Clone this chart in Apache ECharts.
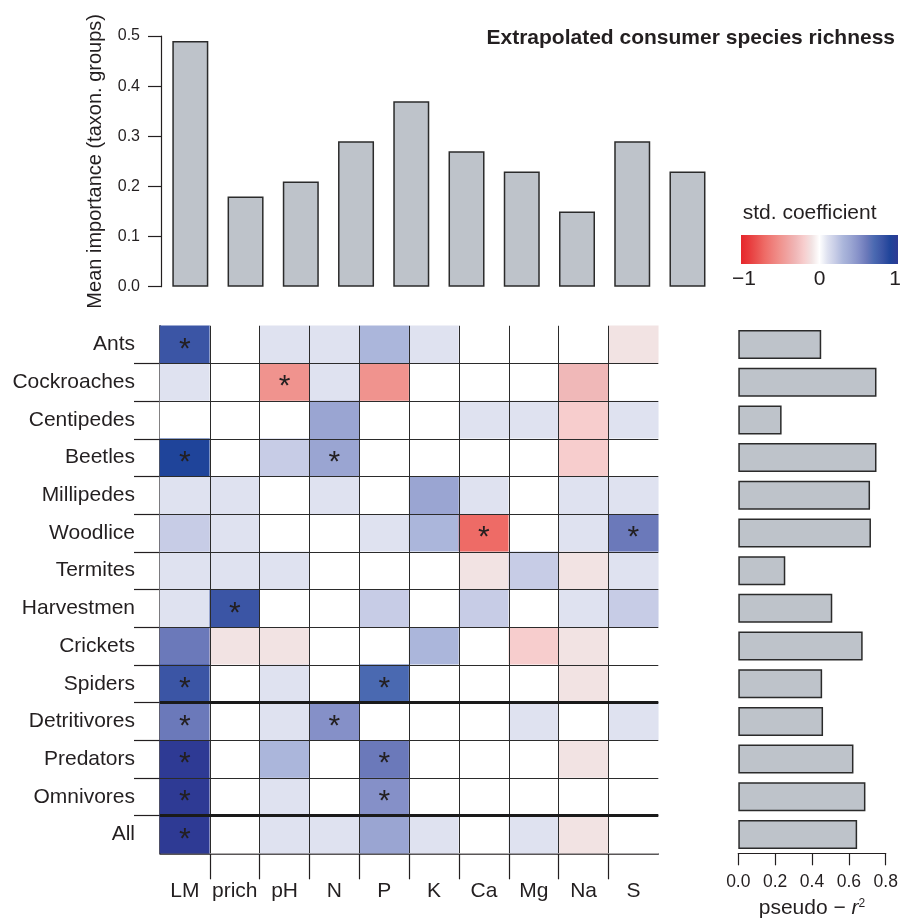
<!DOCTYPE html>
<html><head><meta charset="utf-8">
<script src="https://cdn.jsdelivr.net/npm/echarts@6/dist/echarts.min.js"></script>
<style>html,body{margin:0;padding:0;background:#fff}#c{width:914px;height:924px}</style>
</head><body><div id="c"></div>
<script>
// ---------- data ----------
const predictors = ['LM','prich','pH','N','P','K','Ca','Mg','Na','S'];
const taxa = ['Ants','Cockroaches','Centipedes','Beetles','Millipedes','Woodlice','Termites','Harvestmen','Crickets','Spiders','Detritivores','Predators','Omnivores','All'];
const meanImportance = [0.49,0.18,0.21,0.29,0.37,0.27,0.23,0.15,0.29,0.23];
const pseudoR2 = [0.45,0.75,0.235,0.75,0.715,0.72,0.255,0.51,0.675,0.455,0.46,0.625,0.69,0.645];
// standardized coefficients: one row per taxon, columns follow predictors
const stdCoef = [
  [ 0.8, 0.0, 0.1, 0.1, 0.3, 0.1, 0.0, 0.0, 0.0,-0.1],
  [ 0.1, 0.0,-0.5, 0.1,-0.5, 0.0, 0.0, 0.0,-0.3, 0.0],
  [ 0.0, 0.0, 0.0, 0.4, 0.0, 0.0, 0.1, 0.1,-0.2, 0.1],
  [ 0.9, 0.0, 0.2, 0.4, 0.0, 0.0, 0.0, 0.0,-0.2, 0.0],
  [ 0.1, 0.1, 0.0, 0.1, 0.0, 0.4, 0.1, 0.0, 0.1, 0.1],
  [ 0.2, 0.1, 0.0, 0.0, 0.1, 0.3,-0.7, 0.0, 0.1, 0.6],
  [ 0.1, 0.1, 0.1, 0.0, 0.0, 0.0,-0.1, 0.2,-0.1, 0.1],
  [ 0.1, 0.8, 0.0, 0.0, 0.2, 0.0, 0.2, 0.0, 0.1, 0.2],
  [ 0.6,-0.1,-0.1, 0.0, 0.0, 0.3, 0.0,-0.2,-0.1, 0.0],
  [ 0.8, 0.0, 0.1, 0.0, 0.7, 0.0, 0.0, 0.0,-0.1, 0.0],
  [ 0.6, 0.0, 0.1, 0.5, 0.0, 0.0, 0.0, 0.1, 0.0, 0.1],
  [ 1.0, 0.0, 0.3, 0.0, 0.6, 0.0, 0.0, 0.0,-0.1, 0.0],
  [ 1.0, 0.0, 0.1, 0.0, 0.5, 0.0, 0.0, 0.0, 0.0, 0.0],
  [ 1.0, 0.0, 0.1, 0.1, 0.4, 0.1, 0.0, 0.1,-0.1, 0.0]
];
// significant cells as [taxon index, predictor index]
const significant = [[0,0],[1,2],[3,0],[3,3],[5,6],[5,9],[7,1],[9,0],[9,4],[10,0],[10,3],[11,0],[11,4],[12,0],[12,4],[13,0]];
const groupBreaks = [10, 13];
const legendTicks = [-1, 0, 1];
const coefPalette = ['#E6262B','#E83A3C','#EA5250','#EE6B66','#EF7F7B','#F0938E','#F0A5A3','#F0B8B8','#F7CDCD','#F2E3E3','#FFFFFF',
  '#DFE2F0','#C7CCE6','#ABB6DB','#9AA5D2','#8590C8','#6B79BA','#4A69B1','#3B55A5','#1F449A','#2E3A94'];

// ---------- build ----------
const sigSet = new Set(significant.map(s => s[0] + '_' + s[1]));
const heatData = [];
stdCoef.forEach((row, r) => row.forEach((v, c) => heatData.push([c, r, v, sigSet.has(r + '_' + c) ? 1 : 0])));
const gridLines = [];
for (let i = 1; i < predictors.length; i++) gridLines.push({coords: [[i, 0], [i, taxa.length]]});
for (let j = 1; j < taxa.length; j++) gridLines.push({coords: [[0, j], [predictors.length, j]]});
const breakLines = groupBreaks.map(b => ({coords: [[0, b], [predictors.length, b]]}));
const colTicks = []; for (let i = 1; i < predictors.length; i++) colTicks.push(i);
const rowTicks = []; for (let j = 1; j < taxa.length; j++) rowTicks.push(j);

const ink = '#231F20';
const FONT = 'Liberation Sans, Arial, Helvetica, sans-serif';
const barStyle = {color: '#BEC3CA', borderColor: '#2b2b2b', borderWidth: 1.5};

const chart = echarts.init(document.getElementById('c'), null, {renderer: 'canvas'});
const legX = 741, legY = 235, legW = 157, legH = 29;
const stops = coefPalette.map((c, i) => ({offset: i / (coefPalette.length - 1), color: c}));

chart.setOption({
  animation: false,
  textStyle: {fontFamily: FONT, color: ink},
  grid: [
    {left: 162.7, top: 36, width: 552.4, height: 250.7},
    {left: 160, top: 325.7, width: 498.3, height: 527.6},
    {left: 738.3, top: 325.7, width: 147.4, height: 527.6}
  ],
  xAxis: [
    {type: 'category', gridIndex: 0, data: predictors, show: false},
    {type: 'category', gridIndex: 1, data: predictors, position: 'bottom',
      axisLine: {onZero: false, lineStyle: {color: ink, width: 1.5}}, axisTick: {show: false},
      axisLabel: {fontSize: 21, margin: 27, color: ink, interval: 0}},
    {type: 'value', gridIndex: 1, min: 0, max: predictors.length, interval: 1, position: 'bottom',
      axisLine: {show: false, onZero: false}, axisLabel: {show: false}, splitLine: {show: false},
      axisTick: {show: true, customValues: colTicks, length: 26, lineStyle: {color: ink, width: 1.2}}},
    {type: 'value', gridIndex: 2, min: 0, max: 0.8, interval: 0.2, position: 'bottom',
      axisLine: {show: true, onZero: false, lineStyle: {color: ink, width: 1.2}},
      axisTick: {show: true, length: 12, lineStyle: {color: ink, width: 1.2}},
      axisLabel: {fontSize: 17.5, margin: 20, color: ink, formatter: v => v.toFixed(1)},
      splitLine: {show: false},
      name: '{a|pseudo \u2212 }{r|r}{s|2}', nameLocation: 'middle', nameGap: 44,
      nameTextStyle: {rich: {a: {fontSize: 21, color: ink, fontFamily: FONT}, r: {fontSize: 21, fontStyle: 'italic', color: ink, fontFamily: FONT}, s: {fontSize: 12, verticalAlign: 'top', color: ink, fontFamily: FONT}}}}
  ],
  yAxis: [
    {type: 'value', gridIndex: 0, min: 0, max: 0.5, interval: 0.1, offset: 1.7,
      axisLine: {show: true, onZero: false, lineStyle: {color: ink, width: 1.2}},
      axisTick: {show: true, length: 13, lineStyle: {color: ink, width: 1.2}},
      axisLabel: {fontSize: 16, margin: 21, color: ink, formatter: v => v.toFixed(1)},
      splitLine: {show: false},
      name: 'Mean importance (taxon. groups)', nameLocation: 'middle', nameGap: 56,
      nameTextStyle: {fontSize: 20, color: ink}},
    {type: 'category', gridIndex: 1, data: taxa, inverse: true,
      axisLine: {onZero: false, lineStyle: {color: ink, width: 1.5}}, axisTick: {show: false},
      axisLabel: {fontSize: 21, margin: 25, color: ink, interval: 0}},
    {type: 'value', gridIndex: 1, min: 0, max: taxa.length, interval: 1, inverse: true, position: 'left',
      axisLine: {show: false, onZero: false}, axisLabel: {show: false}, splitLine: {show: false},
      axisTick: {show: true, customValues: rowTicks, length: 26, lineStyle: {color: ink, width: 1.2}}},
    {type: 'category', gridIndex: 2, data: taxa, inverse: true, show: false}
  ],
  visualMap: {type: 'continuous', show: false, min: -1, max: 1, dimension: 2, seriesIndex: 1,
    inRange: {color: coefPalette}},
  graphic: [
    {type: 'text', right: 19, top: 28, style: {text: 'Extrapolated consumer species richness', font: 'bold 21px ' + FONT, fill: ink}},
    {type: 'text', x: 742.7, y: 213, style: {text: 'std. coefficient', font: '21px ' + FONT, fill: ink, verticalAlign: 'middle'}},
    {type: 'rect', shape: {x: legX, y: legY, width: legW, height: legH},
      style: {fill: new echarts.graphic.LinearGradient(0, 0, 1, 0, stops)}},
    ...legendTicks.map((t, i) => ({type: 'text',
      x: legX + (t + 1) / 2 * legW + (i === 0 ? 3 : (i === legendTicks.length - 1 ? -3 : 0)), y: 279,
      style: {text: t < 0 ? '\u2212' + Math.abs(t) : String(t), font: '21px ' + FONT, fill: ink, align: 'center', verticalAlign: 'middle'}}))
  ],
  series: [
    {type: 'bar', xAxisIndex: 0, yAxisIndex: 0, data: meanImportance, barWidth: 36, itemStyle: barStyle, silent: true},
    {type: 'heatmap', xAxisIndex: 1, yAxisIndex: 1, data: heatData, silent: true,
      itemStyle: {borderWidth: 0},
      label: {show: true, color: ink, fontSize: 30, offset: [0, 5], formatter: p => p.value[3] ? '*' : ''}},
    {type: 'lines', coordinateSystem: 'cartesian2d', xAxisIndex: 2, yAxisIndex: 2, data: gridLines, z: 3, silent: true,
      lineStyle: {color: '#2b2b2b', width: 1, opacity: 1}},
    {type: 'lines', coordinateSystem: 'cartesian2d', xAxisIndex: 2, yAxisIndex: 2, data: breakLines, z: 4, silent: true,
      lineStyle: {color: '#1a1a1a', width: 3, opacity: 1}},
    {type: 'bar', xAxisIndex: 3, yAxisIndex: 3, data: pseudoR2, barWidth: 29, itemStyle: barStyle, silent: true}
  ]
});
</script></body></html>
